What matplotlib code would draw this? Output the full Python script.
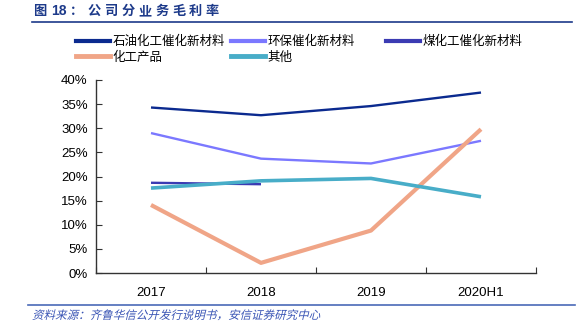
import numpy as np
import matplotlib.pyplot as plt
from matplotlib.lines import Line2D
from matplotlib.patches import PathPatch
from matplotlib.textpath import TextPath
from matplotlib.font_manager import FontProperties
from matplotlib.transforms import Affine2D
from matplotlib.ticker import FixedLocator, FuncFormatter

plt.rcParams['font.family'] = ['Liberation Sans', 'Noto Sans CJK SC', 'DejaVu Sans']
CJK = ['Noto Sans CJK SC', 'DejaVu Sans']

# --- data: gross margin by business line (%) ---
years = ['2017', '2018', '2019', '2020H1']
petro_catalyst = [34.3, 32.7, 34.6, 37.4]
env_catalyst = [29.0, 23.7, 22.7, 27.4]
coal_catalyst = [18.7, 18.4]
chem_products = [14.1, 2.1, 8.8, 29.8]
others = [17.6, 19.1, 19.6, 15.8]

series = [
    ('石油化工催化新材料', petro_catalyst, '#0b2a8f', 1.7),
    ('环保催化新材料', env_catalyst, '#7b78ff', 1.7),
    ('煤化工催化新材料', coal_catalyst, '#3b3bb3', 1.7),
    ('化工产品', chem_products, '#f0a587', 3.0),
    ('其他', others, '#48adc8', 2.6),
]

W, H = 587, 330
fig = plt.figure(figsize=(W / 100, H / 100), dpi=100)
ax = fig.add_axes([96 / W, 1 - 273 / H, 440 / W, 193 / H])

x = np.arange(len(years))
for name, vals, color, lw in series:
    ax.plot(x[:len(vals)], vals, color=color, lw=lw, solid_capstyle='butt')

ax.set_xlim(-0.5, len(years) - 0.5)
ax.set_ylim(0, 40)
ax.set_yticks(np.arange(0, 41, 5))
ax.yaxis.set_major_formatter(FuncFormatter(lambda v, p: f'{v:.0f}%'))

# ticks on category boundaries, labels centred between them
ax.xaxis.set_major_locator(FixedLocator(np.arange(-0.5, len(years), 1.0)))
ax.xaxis.set_minor_locator(FixedLocator(x))
ax.set_xticklabels([])
ax.set_xticklabels(years, minor=True)
ax.tick_params(axis='x', which='major', direction='in', length=4, color='#333333')
ax.tick_params(axis='x', which='minor', length=0, pad=10, labelsize=9.5)
ax.tick_params(axis='y', direction='in', length=4, color='#333333', labelsize=9.5, pad=6)

for s in ['top', 'right']:
    ax.spines[s].set_visible(False)
for s in ['left', 'bottom']:
    ax.spines[s].set_color('#333333')
    ax.spines[s].set_linewidth(1.0)

# legend: three fixed columns, two rows
col_x = [76, 231, 386]
cols = [[0, 3], [1, 4], [2]]
for cx, idx in zip(col_x, cols):
    hs = [Line2D([0], [0], color=series[i][2], lw=3 if series[i][3] < 2 else 3.5) for i in idx]
    fig.legend(hs, [series[i][0] for i in idx], loc='upper left',
               bbox_to_anchor=(cx / W, 1 - 35 / H), frameon=False,
               handlelength=2.7, handletextpad=0.2, labelspacing=0.2,
               borderpad=0.0, borderaxespad=0.0, prop={'family': CJK, 'size': 9})

# title, letter-spaced
navy = '#1d3a8a'
fig.text(33 / W, 1 - 11 / H, '图', fontsize=9.5, fontweight='bold', color=navy,
         va='center', family=CJK)
fig.text(51 / W, 1 - 11 / H, '18', fontsize=10, fontweight='bold', color=navy,
         va='center', family=['Liberation Sans'])
fig.text(70 / W, 1 - 11 / H, '：', fontsize=9.5, fontweight='bold', color=navy,
         va='center', family=CJK)
for i, ch in enumerate('公司分业务毛利率'):
    fig.text((88 + i * 16.8) / W, 1 - 11 / H, ch, fontsize=9.5, fontweight='bold',
             color=navy, va='center', family=CJK)
fig.add_artist(Line2D([32 / W, 572 / W], [1 - 22 / H, 1 - 22 / H], color=navy, lw=1.2))

# source note, slanted
fig.add_artist(Line2D([28 / W, 575 / W], [1 - 305 / H, 1 - 305 / H],
                      color='#4a6ab8', lw=1.2))
src = TextPath((0, 0), '资料来源：齐鲁华信公开发行说明书，安信证券研究中心',
               prop=FontProperties(family=CJK, size=8.3))
tr = Affine2D().skew_deg(14, 0).scale(100 / 72).translate(32, H - 319)
fig.add_artist(PathPatch(src, transform=tr, color='#3a55b5', lw=0))

fig.savefig('out.png', dpi=100)
